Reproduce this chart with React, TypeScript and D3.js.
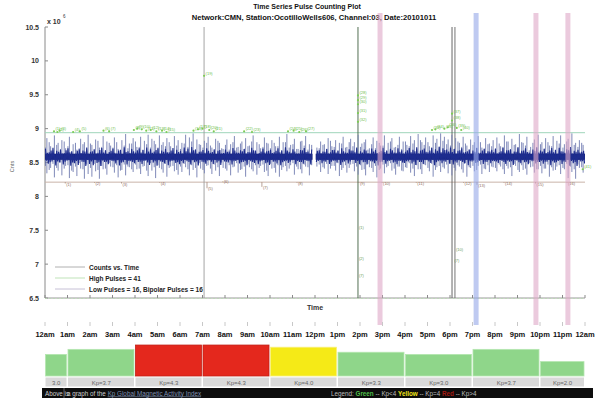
import React from "react";
import * as d3 from "d3";

// ---- pulse-count time series (hours, counts x 10^6) ----
const yTicks = [6.5, 7, 7.5, 8, 8.5, 9, 9.5, 10, 10.5];
const baseline = 8.585;
const highThreshold = 8.94;
const lowThreshold = 8.21;
const gapHour = 11.96;

// per 10-minute slot: highest excursion
const upSpikes = [
  8.86, 8.74, 8.9, 8.79, 8.83, 8.71, 8.88, 8.77, 8.69, 8.85, 8.8, 8.91,
  8.76, 8.84, 8.72, 8.89, 8.81, 8.75, 8.87, 8.7, 8.83, 8.92, 8.78, 8.86,
  8.73, 8.88, 8.82, 8.91, 8.85, 8.77, 8.9, 8.8, 8.86, 8.74, 8.89, 8.83,
  8.79, 8.91, 8.87, 8.93, 8.84, 8.76, 8.82, 8.88, 8.72, 8.85, 8.79, 8.7,
  8.84, 8.77, 8.89, 8.73, 8.81, 8.86, 8.75, 8.9, 8.8, 8.71, 8.87, 8.78,
  8.83, 8.74, 8.88, 8.8, 8.92, 8.76, 8.85, 8.7, 8.82, 8.89, 8.77, 8.84,
  8.72, 8.81, 8.77, 8.86, 8.74, 8.83, 8.79, 8.88, 8.73, 8.85, 8.8, 8.91,
  8.78, 8.84, 8.71, 8.87, 8.82, 8.75, 8.9, 8.79, 8.86, 8.73, 8.88, 8.81,
  8.76, 8.89, 8.83, 8.92, 8.8, 8.87, 8.74, 8.9, 8.85, 8.93, 8.88, 8.84,
  8.91, 8.86, 8.79, 8.88, 8.75, 8.84, 8.8, 8.89, 8.72, 8.86, 8.78, 8.83,
  8.87, 8.74, 8.9, 8.81, 8.85, 8.77, 8.92, 8.79, 8.88, 8.73, 8.84, 8.91,
  8.8, 8.86, 8.75, 8.89, 8.82, 8.9, 8.77, 8.85, 8.93, 8.79, 8.83, 8.76,
];

// per 10-minute slot: lowest excursion
const downSpikes = [
  8.34, 8.42, 8.28, 8.38, 8.31, 8.45, 8.27, 8.36, 8.3, 8.41, 8.26, 8.33,
  8.29, 8.37, 8.26, 8.4, 8.32, 8.44, 8.35, 8.28, 8.39, 8.31, 8.43, 8.36,
  8.4, 8.33, 8.45, 8.3, 8.38, 8.27, 8.42, 8.35, 8.29, 8.44, 8.37, 8.32,
  8.36, 8.43, 8.31, 8.39, 8.28, 8.41, 8.34, 8.46, 8.33, 8.38, 8.3, 8.42,
  8.38, 8.31, 8.44, 8.35, 8.4, 8.29, 8.43, 8.37, 8.32, 8.45, 8.36, 8.3,
  8.41, 8.35, 8.29, 8.43, 8.37, 8.46, 8.32, 8.4, 8.34, 8.44, 8.31, 8.39,
  8.44, 8.36, 8.41, 8.33, 8.45, 8.38, 8.3, 8.42, 8.35, 8.47, 8.37, 8.32,
  8.39, 8.31, 8.43, 8.36, 8.28, 8.41, 8.34, 8.45, 8.38, 8.32, 8.44, 8.37,
  8.42, 8.35, 8.3, 8.4, 8.33, 8.46, 8.37, 8.29, 8.43, 8.36, 8.41, 8.34,
  8.31, 8.38, 8.44, 8.35, 8.29, 8.42, 8.37, 8.45, 8.33, 8.4, 8.36, 8.43,
  8.37, 8.44, 8.33, 8.41, 8.3, 8.45, 8.36, 8.39, 8.32, 8.43, 8.35, 8.4,
  8.34, 8.41, 8.29, 8.38, 8.44, 8.33, 8.4, 8.27, 8.36, 8.26, 8.42, 8.35,
];

// second sample in each slot: smaller high excursion
const upSpikesB = [
  8.72, 8.8, 8.68, 8.76, 8.7, 8.81, 8.74, 8.67, 8.79, 8.71, 8.77, 8.69,
  8.78, 8.7, 8.82, 8.73, 8.68, 8.79, 8.72, 8.8, 8.67, 8.75, 8.71, 8.78,
  8.81, 8.73, 8.69, 8.77, 8.72, 8.82, 8.7, 8.76, 8.74, 8.8, 8.68, 8.75,
  8.7, 8.78, 8.73, 8.81, 8.69, 8.77, 8.72, 8.79, 8.75, 8.68, 8.82, 8.71,
  8.76, 8.69, 8.8, 8.72, 8.78, 8.7, 8.74, 8.81, 8.67, 8.77, 8.73, 8.79,
  8.71, 8.79, 8.74, 8.68, 8.8, 8.72, 8.77, 8.7, 8.81, 8.75, 8.69, 8.76,
  8.79, 8.71, 8.76, 8.7, 8.82, 8.73, 8.68, 8.78, 8.72, 8.8, 8.74, 8.69,
  8.73, 8.8, 8.69, 8.77, 8.71, 8.79, 8.75, 8.68, 8.81, 8.72, 8.76, 8.7,
  8.81, 8.74, 8.78, 8.7, 8.83, 8.76, 8.8, 8.72, 8.79, 8.74, 8.82, 8.77,
  8.75, 8.7, 8.81, 8.73, 8.78, 8.69, 8.76, 8.72, 8.8, 8.71, 8.77, 8.74,
  8.7, 8.78, 8.73, 8.81, 8.69, 8.76, 8.72, 8.8, 8.75, 8.68, 8.79, 8.73,
  8.77, 8.71, 8.8, 8.74, 8.69, 8.78, 8.72, 8.81, 8.7, 8.76, 8.73, 8.79,
];

// second sample in each slot: smaller low excursion
const downSpikesB = [
  8.45, 8.39, 8.48, 8.42, 8.5, 8.41, 8.46, 8.38, 8.44, 8.49, 8.4, 8.47,
  8.42, 8.48, 8.39, 8.45, 8.41, 8.49, 8.43, 8.46, 8.38, 8.47, 8.44, 8.4,
  8.47, 8.41, 8.44, 8.38, 8.49, 8.43, 8.46, 8.4, 8.48, 8.42, 8.45, 8.39,
  8.44, 8.48, 8.4, 8.46, 8.42, 8.49, 8.39, 8.45, 8.41, 8.47, 8.43, 8.5,
  8.41, 8.46, 8.43, 8.49, 8.39, 8.44, 8.48, 8.4, 8.46, 8.42, 8.47, 8.38,
  8.48, 8.42, 8.46, 8.39, 8.45, 8.41, 8.49, 8.44, 8.4, 8.47, 8.43, 8.46,
  8.4, 8.47, 8.43, 8.48, 8.41, 8.45, 8.49, 8.39, 8.46, 8.42, 8.48, 8.44,
  8.46, 8.4, 8.48, 8.42, 8.45, 8.39, 8.47, 8.43, 8.49, 8.41, 8.44, 8.38,
  8.43, 8.49, 8.41, 8.46, 8.4, 8.47, 8.42, 8.48, 8.39, 8.45, 8.43, 8.47,
  8.48, 8.42, 8.46, 8.4, 8.49, 8.43, 8.45, 8.39, 8.47, 8.41, 8.46, 8.44,
  8.42, 8.47, 8.4, 8.45, 8.43, 8.48, 8.39, 8.46, 8.41, 8.49, 8.44, 8.4,
  8.45, 8.41, 8.47, 8.43, 8.39, 8.46, 8.42, 8.48, 8.44, 8.4, 8.47, 8.43,
];

// high pulses: [hour, counts]
const highPulses: [number, number][] = [
  [0.4, 8.96], [0.55, 8.95], [0.65, 8.97], [1.25, 8.95], [1.55, 8.96],
  [2.6, 8.97], [2.85, 8.96], [3.95, 8.98], [4.1, 9.0], [4.3, 8.99],
  [4.5, 8.97], [4.7, 8.98], [4.95, 8.96], [5.2, 8.97], [5.4, 8.95],
  [6.6, 8.97], [6.8, 8.99], [7.0, 9.0], [7.07, 9.78], [7.3, 8.98],
  [7.5, 8.96], [8.85, 8.96], [9.2, 8.95], [10.8, 8.96], [11.05, 8.97],
  [11.3, 8.95], [11.6, 8.96], [13.91, 9.49], [13.91, 9.42], [13.91, 9.36],
  [13.91, 9.23], [13.91, 9.1], [17.2, 8.98], [17.35, 8.99], [17.75, 9.0],
  [17.9, 9.02], [18.09, 9.22], [18.09, 9.12], [18.3, 9.01], [18.5, 8.98],
  [23.9, 8.4],
];

// low pulses: [hour, counts]
const lowPulses: [number, number][] = [
  [0.9, 8.19], [2.2, 8.2], [3.4, 8.19], [5.1, 8.2], [7.2, 8.12],
  [7.9, 8.22], [9.64, 8.14], [11.2, 8.2], [13.95, 8.2], [14.98, 8.2],
  [16.5, 8.2], [18.6, 8.2], [19.2, 8.17], [20.4, 8.2], [21.8, 8.19],
  [23.2, 8.2],
];

// bipolar pulses: vertical markers and their labelled lows
const bipolarHours = [7.07, 13.91, 18.09, 18.22];
const bipolarColors = ["#9a9a9a", "#3f5f3f", "#555555", "#666666"];
const bipolarMarks: [number, number][] = [
  [13.91, 7.52], [13.91, 7.06], [13.91, 6.81], [18.22, 7.19], [18.15, 7.03],
];
const bipolarMarkIds = [1, 2, 7, 10, 7];

// event bands
const eventHours = [14.89, 19.16, 21.82, 23.24];
const eventColors = ["#dfa9c8", "#97a9e8", "#dfa9c8", "#dfa9c8"];

// ---- Kp index strip ----
const hourLabels = [
  "12am", "1am", "2am", "3am", "4am", "5am", "6am", "7am", "8am", "9am", "10am", "11am",
  "12pm", "1pm", "2pm", "3pm", "4pm", "5pm", "6pm", "7pm", "8pm", "9pm", "10pm", "11pm", "12am",
];
const kpStart = [0, 1, 4, 7, 10, 13, 16, 19, 22];
const kpEnd = [1, 4, 7, 10, 13, 16, 19, 22, 24];
const kpValues = [3.0, 3.7, 4.3, 4.3, 4.0, 3.3, 3.0, 3.7, 2.0];
const kpLabels = ["3.0", "Kp=3.7", "Kp=4.3", "Kp=4.3", "Kp=4.0", "Kp=3.3", "Kp=3.0", "Kp=3.7", "Kp=2.0"];

const FONT = "'Liberation Sans', Arial, Helvetica, sans-serif";

export default function App() {
  const W = 608;
  const H = 402;
  const x = d3.scaleLinear().domain([0, 24]).range([45, 585]);
  const y = d3.scaleLinear().domain([6.5, 10.5]).range([298, 27]);
  const kpY = d3.scaleLinear().domain([0, 9]).range([376, 376 - 64.8]);

  const slot = 1 / 6;
  const inGap = (t: number) => Math.abs(t - gapHour) < 0.07;
  const shrink = 0.42;

  // the dense trace: four samples per slot, alternating up and down
  const trace: [number, number | null][] = [];
  upSpikes.forEach((u, i) => {
    const t0 = i * slot;
    const pts: [number, number][] = [
      [t0 + slot * 0.125, baseline + shrink * (u - baseline)],
      [t0 + slot * 0.375, baseline - shrink * (baseline - downSpikesB[i])],
      [t0 + slot * 0.625, baseline + shrink * (upSpikesB[i] - baseline)],
      [t0 + slot * 0.875, baseline - shrink * (baseline - downSpikes[i])],
    ];
    pts.forEach((p) => trace.push(inGap(p[0]) ? [p[0], null] : p));
  });
  const line = d3
    .line<[number, number | null]>()
    .defined((p) => p[1] !== null)
    .x((p) => x(p[0]))
    .y((p) => y(p[1] as number));

  const kpColor = (v: number) => (v < 4 ? "#8fd68a" : v === 4 ? "#f5ea17" : "#e4281d");
  const kpStroke = (v: number) => (v < 4 ? "#b5e6b0" : v === 4 ? "#f8f07a" : "#c21f16");

  return (
    <svg width={W} height={H} style={{ display: "block", position: "absolute", left: 0, top: 0 }} fontFamily={FONT}>
      <rect width={W} height={H} fill="#ffffff" />
      {/* titles */}
      <text x={307} y={9} textAnchor="middle" fontSize={7} fontWeight="bold" fill="#111">
        Time Series Pulse Counting Plot
      </text>
      <text x={314} y={19.5} textAnchor="middle" fontSize={7.6} fontWeight="bold" fill="#111">
        Network:CMN, Station:OcotilloWells606, Channel:03, Date:20101011
      </text>

      {/* y axis */}
      <line x1={45} x2={45} y1={y(10.5)} y2={y(6.5)} stroke="#8a8a8a" strokeWidth={1} />
      {yTicks.map((t) => (
        <g key={t}>
          <line x1={45} x2={48} y1={y(t)} y2={y(t)} stroke="#8a8a8a" />
          <text x={39} y={y(t) + 2.5} textAnchor="end" fontSize={7} fontWeight="bold" fill="#333">
            {t}
          </text>
        </g>
      ))}
      <text x={47} y={24} fontSize={7} fontWeight="bold" fill="#333">
        x 10
      </text>
      <text x={63} y={18} fontSize={4.5} fill="#333">
        6
      </text>
      <text transform={`translate(14,${y(8.5) + 4}) rotate(-90)`} textAnchor="middle" fontSize={5.5} fill="#666">
        Cnts
      </text>

      {/* x axis */}
      <line x1={45} x2={585} y1={298} y2={298} stroke="#9a9a9a" strokeWidth={1} />
      <line x1={45} x2={585} y1={298.5} y2={298.5} stroke="#b9d9b3" strokeWidth={0.8} strokeDasharray="2,2" />
      {d3.range(0, 25).map((h) => (
        <line key={h} x1={x(h)} x2={x(h)} y1={298} y2={295} stroke="#8a8a8a" />
      ))}
      <text x={315} y={310} textAnchor="middle" fontSize={7} fontWeight="bold" fill="#333">
        Time
      </text>

      {/* thresholds */}
      <line x1={x(0)} x2={x(24)} y1={y(highThreshold)} y2={y(highThreshold)} stroke="#9fd6bb" strokeWidth={1} />
      <line x1={x(0)} x2={x(24)} y1={y(lowThreshold)} y2={y(lowThreshold)} stroke="#c9b3a8" strokeWidth={1} />

      {/* bipolar markers */}
      {bipolarHours.map((h, i) => (
        <line key={h} x1={x(h)} x2={x(h)} y1={y(10.5)} y2={y(6.5)} stroke={bipolarColors[i]} strokeWidth={0.9} />
      ))}
      {bipolarMarks.map(([h, v], i) => (
        <text key={i} x={x(h) + 1} y={y(v)} fontSize={4} fill="#6c9a5a">
          ({bipolarMarkIds[i]})
        </text>
      ))}

      {/* spikes */}
      {upSpikes.map((u, i) => {
        const t = (i + 0.5) * slot;
        if (inGap(t)) return null;
        return (
          <line key={"a" + i} x1={x(t)} x2={x(t)} y1={y(u)} y2={y(downSpikes[i])} stroke="#7f89b8" strokeWidth={1} />
        );
      })}
      {upSpikesB.map((u, i) => {
        const t = i * slot + 0.02;
        if (inGap(t)) return null;
        return (
          <line key={"b" + i} x1={x(t)} x2={x(t)} y1={y(u)} y2={y(downSpikesB[i])} stroke="#5a67a6" strokeWidth={0.8} />
        );
      })}
      {/* dense core */}
      <rect x={x(0)} y={y(8.63)} width={x(gapHour - 0.07) - x(0)} height={y(8.54) - y(8.63)} fill="#17247e" />
      <rect x={x(gapHour + 0.07)} y={y(8.63)} width={x(24) - x(gapHour + 0.07)} height={y(8.54) - y(8.63)} fill="#17247e" />
      <path d={line(trace) ?? ""} fill="none" stroke="#1d2c8e" strokeWidth={1.1} />

      {/* high pulses */}
      {highPulses.map(([h, v], i) => (
        <g key={i}>
          <circle cx={x(h)} cy={y(v)} r={1.1} fill="#7ccc55" />
          <text x={x(h) + 1.5} y={y(v) - 1} fontSize={4} fill="#6cc04a">
            ({i + 1})
          </text>
        </g>
      ))}
      {/* low pulses */}
      {lowPulses.map(([h, v], i) => (
        <g key={i}>
          <line x1={x(h)} x2={x(h)} y1={y(lowThreshold)} y2={y(v)} stroke="#9a7a6a" strokeWidth={0.7} />
          <text x={x(h) + 1} y={y(v) + 2} fontSize={4} fill="#8a6a5a">
            ({i + 1})
          </text>
        </g>
      ))}

      {/* event bands */}
      {eventHours.map((h, i) => (
        <rect key={h} x={x(h) - 2.5} y={13} width={5} height={312} fill={eventColors[i]} opacity={0.62} />
      ))}

      {/* legend */}
      <line x1={55} x2={85} y1={267} y2={267} stroke="#b0b0b0" />
      <line x1={55} x2={85} y1={278} y2={278} stroke="#bfe3b8" />
      <line x1={55} x2={85} y1={289} y2={289} stroke="#c6c0d6" />
      <text x={89} y={269.5} fontSize={6.5} fontWeight="bold" fill="#222">Counts vs. Time</text>
      <text x={89} y={280.5} fontSize={6.5} fontWeight="bold" fill="#222">High Pulses = 41</text>
      <text x={89} y={291.5} fontSize={6.5} fontWeight="bold" fill="#222">Low Pulses = 16, Bipolar Pulses = 16</text>

      {/* Kp strip */}
      {hourLabels.map((l, i) => (
        <g key={i}>
          <line x1={x(i)} x2={x(i)} y1={322} y2={326} stroke="#c8c8c8" />
          <text x={x(i)} y={337} textAnchor="middle" fontSize={7.5} fontWeight="bold" fill="#111">
            {l}
          </text>
        </g>
      ))}
      {kpValues.map((v, i) => (
        <g key={i}>
          <rect
            x={x(kpStart[i]) + 0.5}
            y={kpY(v)}
            width={x(kpEnd[i]) - x(kpStart[i]) - 1.5}
            height={376 - kpY(v)}
            fill={kpColor(v)}
            stroke={kpStroke(v)}
            strokeWidth={0.8}
          />
          <rect x={x(kpStart[i]) + 0.5} y={377.5} width={x(kpEnd[i]) - x(kpStart[i]) - 1.5} height={9} fill="#d9d9d9" />
          <text
            x={(x(kpStart[i]) + x(kpEnd[i])) / 2}
            y={384.5}
            textAnchor="middle"
            fontSize={6}
            fill="#666"
          >
            {kpLabels[i]}
          </text>
        </g>
      ))}
      <rect x={42} y={388} width={551} height={10} fill="#0d0d0d" />
      <line x1={64} x2={64} y1={388} y2={398} stroke="#777" strokeWidth={0.8} />
      <text x={45} y={395.5} fontSize={6.3} fill="#cfcfcf">Above is</text>
      <text x={67} y={395.5} fontSize={6.3} fill="#cfcfcf">
        a graph of the <tspan fill="#7f8fb0" textDecoration="underline">Kp Global Magnetic Activity Index</tspan>
      </text>
      <text x={331} y={395.5} fontSize={6.3} fill="#bdbdbd">
        Legend: <tspan fill="#4fbf4a" fontWeight="bold">Green</tspan> -- Kp&lt;4{" "}
        <tspan fill="#f2e41a" fontWeight="bold">Yellow</tspan> -- Kp=4{" "}
        <tspan fill="#a21a12" fontWeight="bold">Red</tspan> -- Kp&gt;4
      </text>
    </svg>
  );
}
